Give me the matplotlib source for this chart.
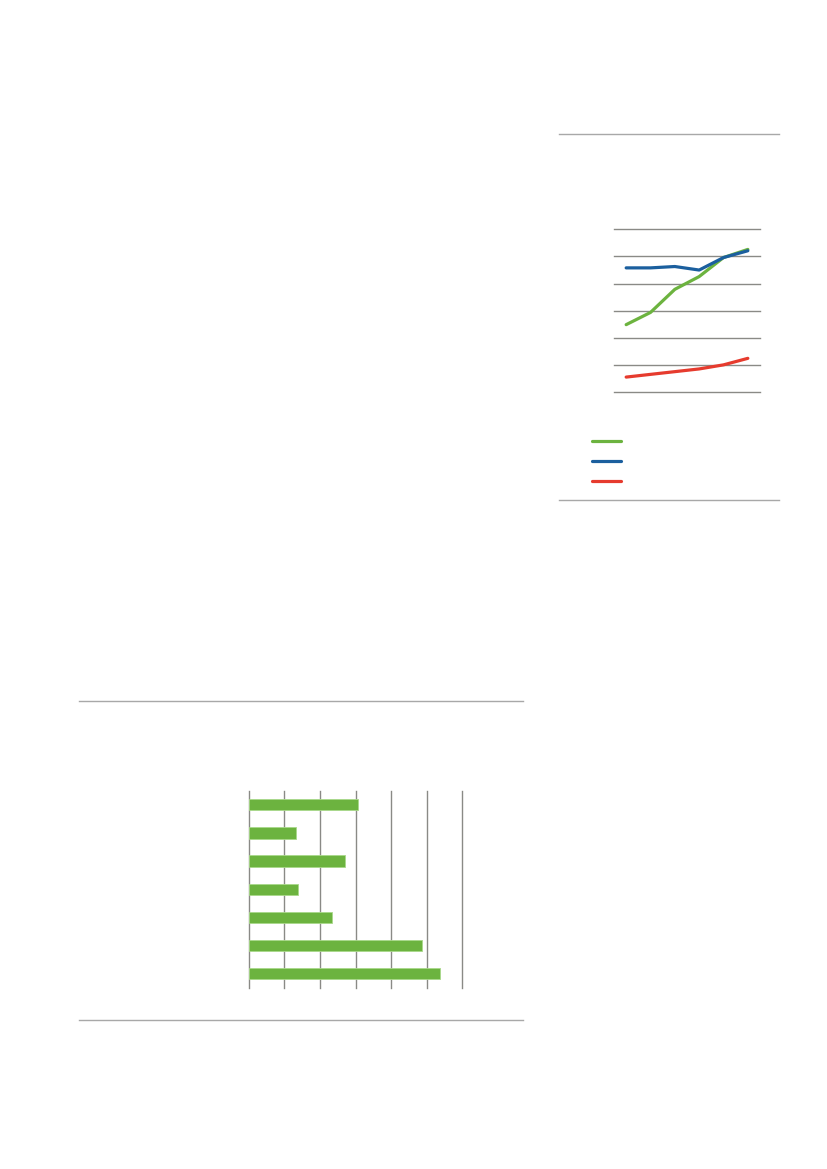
import matplotlib.pyplot as plt
from matplotlib.lines import Line2D

# line chart (top right): three series over six periods
periods = [0, 1, 2, 3, 4, 5]
green_series = [2.49, 2.94, 3.79, 4.26, 4.96, 5.26]
blue_series = [4.58, 4.58, 4.63, 4.50, 4.96, 5.21]
red_series = [0.56, 0.66, 0.76, 0.86, 1.01, 1.25]

# bar chart (bottom left): seven categories
bar_positions = [0, 1, 2, 3, 4, 5, 6]
bar_values = [3.08, 1.32, 2.71, 1.39, 2.34, 4.87, 5.36]

GREEN = '#6cb33f'
BLUE = '#1b5f9e'
RED = '#e63b2e'
GRID = '#8a8a86'
RULE = '#a8a8a8'

fig = plt.figure(figsize=(8.27, 11.69), dpi=100)

# horizontal page rules framing each chart
def rule(x0, x1, y):
    fig.add_artist(Line2D([x0 / 827, x1 / 827], [1 - y / 1169, 1 - y / 1169],
                          color=RULE, lw=1.0))

rule(559, 779, 134)
rule(559, 779, 500)
rule(79, 523, 701)
rule(79, 523, 1020)

# --- line chart
ax1 = fig.add_axes([614 / 827, 1 - 392.3 / 1169, 146 / 827, 163 / 1169])
ax1.set_xlim(-0.5, 5.5)
ax1.set_ylim(0, 6)
ax1.set_yticks(range(7))
ax1.yaxis.grid(True, color=GRID, lw=1.0)
ax1.set_axisbelow(True)
for s in ax1.spines.values():
    s.set_visible(False)
ax1.tick_params(left=False, bottom=False, labelleft=False, labelbottom=False)
lg, = ax1.plot(periods, green_series, color=GREEN, lw=2.3, solid_capstyle='round')
lb, = ax1.plot(periods, blue_series, color=BLUE, lw=2.3, solid_capstyle='round')
lr, = ax1.plot(periods, red_series, color=RED, lw=2.3, solid_capstyle='round')
for gl in ax1.get_ygridlines():
    gl.set_clip_on(False)

fig.legend([lg, lb, lr], [' ', ' ', ' '], loc='upper left',
           bbox_to_anchor=(592 / 827, 1 - 437 / 1169), frameon=False,
           fontsize=8, handlelength=2.6, handletextpad=0.4,
           labelspacing=0.9, borderpad=0, borderaxespad=0)

# --- bar chart
ax2 = fig.add_axes([248.7 / 827, 1 - 987.7 / 1169, 213.6 / 827, 197 / 1169])
ax2.barh(bar_positions, bar_values, height=0.4, color=GREEN,
         edgecolor='#a9d88a', linewidth=0.6, zorder=3)
ax2.set_xlim(0, 6)
ax2.set_ylim(6.5, -0.5)
ax2.set_xticks(range(7))
ax2.xaxis.grid(True, color=GRID, lw=1.0)
ax2.set_axisbelow(True)
for gl in ax2.get_xgridlines():
    gl.set_clip_on(False)
for s in ax2.spines.values():
    s.set_visible(False)
ax2.tick_params(left=False, bottom=False, labelleft=False, labelbottom=False)

fig.savefig('out.png', dpi=100)
